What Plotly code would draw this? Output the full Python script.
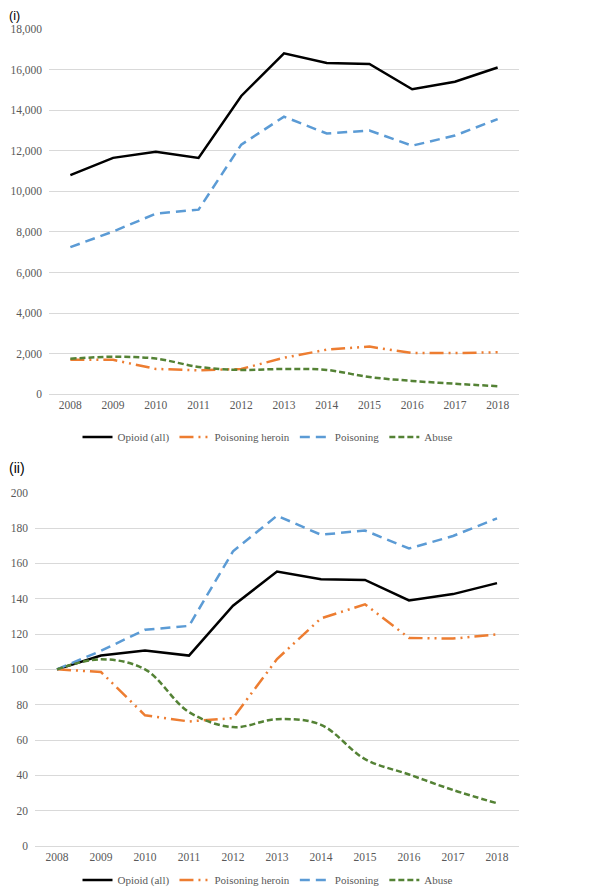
import plotly.graph_objects as go

years = [2008, 2009, 2010, 2011, 2012, 2013, 2014, 2015, 2016, 2017, 2018]

# Panel (i): counts
opioid_all = [10800, 11650, 11950, 11650, 14700, 16800, 16330, 16280, 15030, 15400, 16100]
poison_heroin = [1700, 1700, 1250, 1180, 1250, 1800, 2200, 2350, 2030, 2030, 2070]
poisoning = [7250, 8020, 8900, 9100, 12300, 13680, 12850, 13000, 12250, 12750, 13560]
abuse = [1750, 1850, 1760, 1350, 1200, 1250, 1200, 850, 660, 520, 400]

# Panel (ii): index (2008 = 100)
opioid_idx = [100, 107.8, 110.6, 107.8, 136, 155.4, 151, 150.6, 139, 142.6, 148.8]
heroin_idx = [100, 98.5, 74, 70.5, 72.4, 105.8, 128.9, 136.8, 117.8, 117.4, 119.8]
poisoning_idx = [100, 110.5, 122.4, 124.6, 166.8, 187, 176.2, 178.6, 168.4, 175.5, 185.5]
abuse_idx = [100, 105.7, 100, 75.8, 67.3, 71.8, 68.6, 49.2, 40.5, 31.7, 24.2]

names = ["Opioid (all)", "Poisoning heroin", "Poisoning", "Abuse"]
colors = ["#000000", "#ED7D31", "#5B9BD5", "#548235"]
dashes = ["solid", "14px,5px,2px,5px,2px,5px", "10px,6px", "6px,3px"]
shapes = ["linear", "linear", "linear", "spline"]

# page body has an 8px default margin; figure sized to fit inside the window
OFF = 8
W, H = 616 - 2 * OFF, 895 - 2 * OFF

def px(s):
    return (s - OFF) / W

def py(s):
    return 1 - (s - OFF) / H

fig = go.Figure()
top_series = [opioid_all, poison_heroin, poisoning, abuse]
bot_series = [opioid_idx, heroin_idx, poisoning_idx, abuse_idx]
for i in range(4):
    fig.add_trace(go.Scatter(x=years, y=top_series[i], name=names[i], mode="lines",
                             line=dict(color=colors[i], width=2.5, dash=dashes[i], shape=shapes[i]),
                             xaxis="x", yaxis="y", legend="legend"))
for i in range(4):
    fig.add_trace(go.Scatter(x=years, y=bot_series[i], name=names[i], mode="lines",
                             line=dict(color=colors[i], width=2.5, dash=dashes[i], shape=shapes[i]),
                             xaxis="x2", yaxis="y2", legend="legend2"))

tickfont = dict(family="Liberation Serif", size=11.5, color="#595959")
legfont = dict(family="Liberation Serif", size=11, color="#595959")
grid = "#D9D9D9"

fig.update_layout(
    width=W, height=H,
    margin=dict(l=0, r=0, t=0, b=0, autoexpand=False),
    paper_bgcolor="white", plot_bgcolor="white",
    xaxis=dict(domain=[px(49), px(519)], range=[2007.5, 2018.5], tickvals=years,
               ticktext=[str(y) for y in years], tickfont=tickfont, showgrid=False,
               showline=True, linecolor=grid, linewidth=1, anchor="y", zeroline=False,
               automargin=False),
    yaxis=dict(domain=[py(394.3), py(29)], range=[0, 18000], dtick=2000, tickformat=",d",
               tickfont=tickfont, gridcolor=grid, gridwidth=1, zeroline=False,
               showline=False, anchor="x", ticklabelstandoff=6, automargin=False),
    xaxis2=dict(domain=[px(35), px(519)], range=[2007.5, 2018.5], tickvals=years,
                ticktext=[str(y) for y in years], tickfont=tickfont, showgrid=False,
                showline=True, linecolor=grid, linewidth=1, anchor="y2", zeroline=False,
                automargin=False),
    yaxis2=dict(domain=[py(846), py(492.7)], range=[0, 200], dtick=20,
                tickfont=tickfont, gridcolor=grid, gridwidth=1, zeroline=False,
                showline=False, anchor="x2", ticklabelstandoff=6, automargin=False),
    legend=dict(orientation="h", x=px(268), xanchor="center", y=py(437), yanchor="middle",
                font=legfont, bgcolor="rgba(0,0,0,0)", itemwidth=30),
    legend2=dict(orientation="h", x=px(268), xanchor="center", y=py(880), yanchor="middle",
                 font=legfont, bgcolor="rgba(0,0,0,0)", itemwidth=30),
    showlegend=True,
    annotations=[
        dict(text="(i)", x=0, y=1, xref="paper", yref="paper", xanchor="left",
             yanchor="top", showarrow=False, borderpad=0,
             font=dict(family="Liberation Sans", size=12.5, color="#000000")),
        dict(text="(ii)", x=0, y=py(459), xref="paper", yref="paper", xanchor="left",
             yanchor="top", showarrow=False, borderpad=0,
             font=dict(family="Liberation Sans", size=14, color="#000000")),
    ],
)

fig.write_html("out.html")
